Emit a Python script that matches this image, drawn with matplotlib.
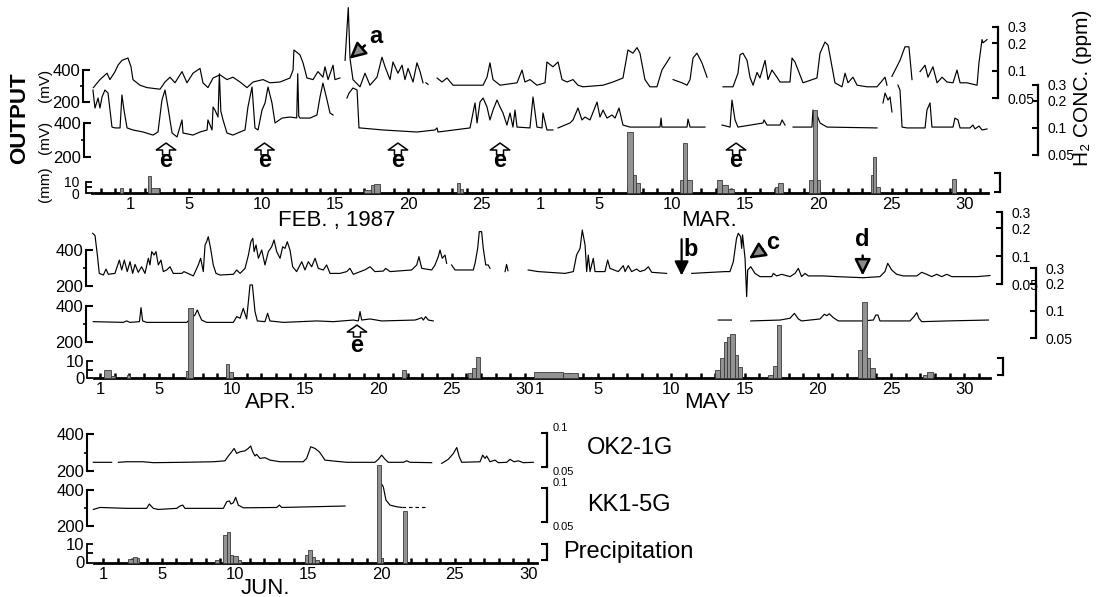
import numpy as np
import matplotlib
matplotlib.use('Agg')
import matplotlib.pyplot as plt
from matplotlib.ticker import NullLocator

plt.rcParams['font.family'] = ['Liberation Sans', 'DejaVu Sans']

nan = np.nan

# ---------------- Feb / Mar 1987 (day 1 = Feb 1, day 29 = Mar 1) ----------------
fm_ok_day = [-1.5, -1.05, -0.57, -0.37, -0.02, 0.18, 0.45, 0.86, 1.07, 1.2,
             1.68, 2.16, 3.05, 3.39, 3.73, 4.07, 4.55, 4.89, 5.3, 5.78,
             5.98, 6.32, 6.67, 7.14, 7.62, 8.03, 8.51, 8.99, 9.4, 10.08,
             10.56, 11.24, 11.92, 12.13, 12.19, 12.6, 12.81, 13.08, 13.49, 13.83,
             14.17, 14.31, 14.52, 14.86, 14.99, 15.33, nan,
             15.68, 15.9, 16.02, 16.22, 16.7, 17.04, 17.38, 17.86, 18.2, 18.41,
             18.75, 18.95, 19.29, 19.57, 19.77, 19.98, 20.32, 20.59, 20.8, 21.0, nan,
             21.2, 21.35, nan,
             21.96, 22.3, 22.64, 23.05, 25.1, 25.37, 25.57, 25.78, 26.26, 27.42,
             27.76, 27.96, 28.3, 28.78, 29.33, 29.46, 29.87, 30.22, 30.49, 30.83,
             31.24, 31.58, 31.92, 33.29, 33.97, 34.65, 34.99, 35.33, 35.61, 35.81,
             36.15, 36.49, 36.97, 37.31, 37.66, 37.86, nan,
             38.07, 38.68, 39.02, 39.23, 39.43, 39.7, 40.04, 40.39, nan,
             41.48, 42.16, 42.5, 42.64, 42.84, 43.12, 43.32, 43.53, 43.8, 44.0,
             44.35, 44.55, 44.82, 45.16, 45.37, 46.05, 46.19, 46.39, 46.6, 46.94,
             47.89, 48.1, 48.44, 48.65, 48.92, 49.12, 49.6, 49.81, 50.01, 50.35,
             50.63, 51.31, 51.99, 52.54, 52.67, nan,
             53.01, 53.56, 53.9, 54.17, 54.38, nan,
             54.93, 55.27, 55.47, 55.81, 56.09, 56.43, 56.77, 57.18, 57.45, 57.66,
             58.13, 58.82, 58.95, 59.16, 59.23, 59.5]
fm_ok_mv = [290, 340, 380, 340, 390, 430, 460, 475, 420, 340,
            305, 290, 280, 325, 355, 320, 390, 320, 380, 410,
            320, 290, 350, 370, 340, 355, 325, 290, 325, 340,
            320, 325, 350, 400, 525, 495, 445, 350, 340, 390,
            355, 420, 340, 430, 340, 350, nan,
            460, 790, 470, 340, 295, 380, 305, 355, 480, 420,
            340, 450, 380, 430, 340, 410, 325, 445, 390, 320, nan,
            320, 310, nan,
            350, 325, 350, 305, 305, 355, 445, 340, 305, 320,
            400, 325, 340, 305, 320, 450, 420, 450, 340, 325,
            340, 305, 295, 305, 325, 350, 525, 505, 540, 505,
            340, 295, 295, 400, 450, 480, nan,
            340, 320, 305, 340, 475, 505, 445, 355, nan,
            295, 295, 380, 495, 505, 460, 355, 305, 385, 350,
            460, 340, 400, 355, 325, 325, 475, 450, 400, 320,
            350, 505, 575, 555, 420, 320, 295, 380, 320, 355,
            305, 295, 295, 355, 305, nan,
            360, 460, 545, 545, 340, nan,
            390, 430, 355, 420, 320, 355, 325, 320, 400, 320,
            320, 305, 445, 590, 570, 590]

fm_kk_day = [-1.53, -1.39, -1.18, -1.05, -0.91, -0.71, -0.5, -0.23, -0.02, 0.32,
             0.45, 0.59, 0.8, 1.2, 1.89, 2.57, 2.91, 3.18, 3.39, 3.59,
             3.87, 4.21, 4.55, 4.62, 5.3, 5.78, 6.26, 6.32, 6.6, 6.67,
             6.8, 7.01, 7.1, 7.2, 7.35, 7.62, 8.03, 8.51, 8.85, 9.05, 9.33,
             9.53, 9.74, 10.01, 10.22, 10.42, 10.69, 10.9, 11.38, 11.92, 12.38,
             12.45, 12.52, 12.6, 13.29, 13.76, 13.97, 14.17, 14.45, 14.65, 14.86, nan,
             15.81, 15.95, 16.22, 16.5, 16.63, 16.7, 18.27, 20.59, 21.82, 21.96,
             22.02, 24.21, 24.55, 24.69, 24.89, 25.1, 25.37, 25.57, 25.78, 26.05,
             26.26, 26.46, 26.73, 26.94, 27.14, 27.28, 27.42, 28.3, 28.51, 28.78,
             29.12, 29.19, 29.46, 29.87, nan,
             30.22, 31.03, 31.24, 31.58, 31.85, 32.06, 32.4, 32.88, 33.08, 33.29,
             33.56, 33.9, 34.11, 34.38, 34.65, 35.13, 37.18, 37.25, 37.31, 39.02,
             39.09, 39.23, 40.25, nan,
             41.41, 41.96, 42.09, 42.3, 42.5, 44.21, 44.28, 44.48, 45.37, 45.51,
             45.71, nan,
             46.26, 47.55, 47.62, 47.76, 47.89, 48.1, 48.58, 51.99, nan,
             52.4, 52.54, 52.74, 52.88, 53.01, nan,
             53.42, 53.56, 53.7, 54.04, 55.27, 55.4, 55.61, 55.74, 57.18, 57.31,
             57.52, 57.66, 58.34, 58.54, 58.68, 58.95, 59.16, 59.5]
fm_kk_mv = [594, 488, 547, 488, 553, 594, 576, 376, 371, 371,
            565, 476, 371, 359, 347, 329, 347, 535, 594, 494,
            341, 318, 418, 341, 329, 347, 359, 418, 359, 494,
            476, 435, 690, 470, 418, 341, 329, 347, 359, 494, 612,
            371, 359, 476, 518, 612, 518, 400, 429, 435, 430,
            690, 440, 429, 429, 447, 553, 635, 535, 459, 447, nan,
            547, 576, 606, 594, 371, 371, 359, 347, 359, 371,
            347, 371, 518, 400, 523, 547, 494, 418, 476, 535,
            494, 459, 388, 459, 376, 476, 376, 371, 553, 376,
            371, 459, 359, 359, nan,
            371, 400, 418, 488, 418, 435, 418, 523, 435, 476,
            429, 447, 429, 488, 388, 376, 376, 429, 376, 376,
            423, 376, 376, nan,
            388, 376, 535, 418, 376, 400, 418, 388, 388, 418,
            388, nan,
            376, 376, 476, 347, 447, 400, 376, 371, nan,
            518, 576, 535, 553, 465, nan,
            623, 594, 376, 371, 371, 476, 518, 376, 376, 429,
            418, 371, 371, 388, 365, 382, 359, 365]

fm_rain_start = [0.3, 2.2, 2.45, 17.0, 17.45, 17.65, 23.3, 23.55,
                 34.95, 35.35, 35.55, 38.55, 38.75, 39.05, 41.05, 41.4, 41.8,
                 45.0, 45.25, 47.35, 47.6, 47.9, 51.55, 51.75, 51.95, 57.1]
fm_rain_end = [0.55, 2.45, 3.0, 17.45, 17.65, 18.05, 23.55, 23.75,
               35.35, 35.55, 35.8, 38.75, 39.05, 39.35, 41.4, 41.8, 42.2,
               45.25, 45.6, 47.6, 47.9, 48.1, 51.75, 51.95, 52.2, 57.35]
fm_rain_mm = [4.5, 15, 4.5, 2.5, 7, 8, 9, 4,
              55, 16, 9, 12, 45, 12, 12, 7, 4,
              5, 9, 12, 75, 12, 16, 33, 5, 13]

fm_tick_day = [1, 5, 10, 15, 20, 25, 29, 33, 38, 43, 48, 53, 58]
fm_tick_txt = ['1', '5', '10', '15', '20', '25', '1', '5', '10', '15', '20', '25', '30']
fm_e_day = [3.46, 10.18, 19.29, 26.26, 42.37]

# ---------------- Apr / May 1987 (day 1 = Apr 1, day 31 = May 1) ----------------
am_ok_day = [0.5, 0.66, 0.82, 0.95, 1.23, 1.41, 1.57, 2.02, 2.32, 2.48,
             2.66, 2.86, 3.05, 3.23, 3.39, 3.61, 3.84, 4.07, 4.3, 4.41,
             4.53, 4.69, 4.82, 4.98, 5.16, 5.32, 5.55, 5.78, 6.0, 6.58,
             6.73, 7.37, 7.71, 7.87, 8.05, 8.17, 8.28, 8.39, 8.55, 8.73,
             8.92, 9.19, 10.1, 10.33, 10.56, 10.9, 11.13, 11.3, 11.43, 11.52,
             11.65, 11.81, 12.04, 12.26, 12.49, 12.72, 12.88, 13.06, 13.29, 13.47,
             13.63, 13.78, 13.97, 14.15, 14.42, 14.77, 14.99, 15.22, 15.45, 15.68,
             15.9, 16.24, 16.47, 16.7, 17.38, 17.84, 18.06, 18.29, 19.09, 19.43,
             19.77, 20.34, 20.5, 20.8, 22.27, 22.62, 22.77, 22.96, 23.64, 23.87,
             24.09, 24.21, 24.36, 24.55, 24.66, nan,
             25.0, 25.23, 26.48, 26.6, 26.78, 26.89, 27.05, 27.16, 27.33, 27.5,
             27.62, nan,
             28.65, 28.75, 28.85, nan,
             30.23, 30.91, 32.74, 33.31, 33.53, 33.77, 33.92, 34.11, 34.22, 34.33,
             34.45, 34.67, 34.79, 35.47, 35.65, 35.81, 36.38, 36.72, 36.84, 37.06,
             37.29, 37.63, 37.86, 38.2, 38.43, 38.66, 39.68, nan,
             41.39, 43.66, 44.0, 44.23, 44.45, 44.57, 44.73, 44.8, 44.86, 45.03,
             45.14, 45.21, 45.42, 45.71, 46.05, 46.85, 46.96, 47.19, 47.53, 48.1,
             48.44, 48.67, 48.89, 49.12, 49.35, 50.37, 51.29, 53.1, 54.24, 54.58,
             54.77, 55.04, 55.38, 55.84, 56.75, 57.09, 57.43, 57.77, 58.11, 58.45,
             58.8, 59.14, 59.93, 60.84, 61.75]
am_ok_mv = [493, 480, 372, 270, 261, 294, 265, 270, 344, 289,
            344, 280, 335, 270, 320, 276, 307, 270, 354, 317,
            391, 372, 391, 317, 344, 280, 289, 307, 270, 270,
            280, 256, 317, 354, 280, 428, 446, 474, 409, 317,
            270, 261, 265, 289, 270, 298, 372, 446, 465, 391,
            428, 354, 400, 317, 391, 418, 456, 391, 354, 418,
            409, 446, 400, 307, 280, 335, 289, 335, 307, 354,
            298, 289, 317, 270, 270, 280, 298, 265, 290, 307,
            280, 283, 298, 280, 289, 317, 363, 298, 289, 317,
            363, 400, 354, 372, 326, nan,
            317, 289, 289, 326, 409, 502, 502, 409, 317, 317,
            298, nan,
            280, 320, 285, nan,
            289, 280, 270, 280, 372, 409, 511, 428, 280, 372,
            280, 354, 280, 280, 344, 298, 280, 313, 280, 313,
            280, 294, 280, 289, 307, 276, 270, nan,
            270, 280, 280, 335, 465, 493, 474, 409, 484, 354,
            141, 289, 307, 270, 252, 252, 270, 256, 265, 252,
            270, 298, 252, 270, 256, 256, 252, 246, 252, 280,
            326, 289, 265, 256, 256, 276, 265, 252, 265, 252,
            265, 252, 252, 252, 258]

am_kk_day = [0.54, 2.59, 2.82, 3.05, 3.69, 3.8, 3.91, 4.19, 6.92, 7.48,
             7.64, 7.78, 7.94, 8.28, 10.1, 10.33, 10.56, 10.78, 11.01, 11.24,
             11.4, 11.58, 11.74, 12.26, 12.44, 12.6, 13.51, 15.79, 16.93, 18.29,
             18.63, 18.75, 18.86, 19.43, 20.23, 22.5, 22.73, 22.96, 23.07, 23.23,
             23.41, 23.75, nan,
             43.2, 44.1, nan,
             45.42, 47.42, 48.1, 48.4, 48.67, 48.89, 50.15, 50.44, 50.61, 50.78,
             51.06, 51.4, 53.0, 53.79, 53.96, 54.1, 54.24, 56.29, 56.56, 56.75,
             56.9, 57.09, 58.8, 61.64]
am_kk_mv = [313, 309, 317, 309, 313, 391, 317, 309, 309, 350,
            378, 350, 322, 309, 309, 341, 332, 387, 328, 517,
            517, 369, 317, 313, 359, 317, 309, 317, 313, 322,
            317, 369, 322, 328, 317, 322, 328, 335, 322, 341,
            322, 317, nan,
            322, 322, nan,
            317, 322, 332, 359, 328, 317, 328, 354, 346, 357,
            335, 317, 317, 322, 350, 350, 317, 317, 341, 363,
            332, 313, 317, 322]

am_rain_start = [1.27, 1.73, 2.82, 6.85, 7.0, 9.6, 9.83, 21.59,
                 26.14, 26.37, 26.67, 30.65, 32.6,
                 43.0, 43.3, 43.56, 43.77, 44.02, 44.36, 44.52,
                 46.6, 46.95, 47.2, 52.76, 52.99, 53.33, 53.56, 57.2, 57.43]
am_rain_end = [1.73, 2.0, 3.05, 7.0, 7.33, 9.83, 10.1, 21.86,
               26.37, 26.67, 26.94, 32.6, 33.65,
               43.3, 43.56, 43.77, 44.02, 44.36, 44.52, 44.82,
               46.95, 47.2, 47.5, 52.99, 53.33, 53.56, 53.9, 57.43, 57.88]
am_rain_mm = [4.7, 1.2, 1.5, 4, 41, 8, 3.4, 4.7,
              2.7, 5.7, 12.5, 3.3, 2.8,
              5, 12, 21, 24, 26, 13.5, 6.7,
              2, 7, 31, 16.5, 45, 11.6, 5.7, 2, 3.7]

am_tick_day = [1, 5, 10, 15, 20, 25, 30, 31, 35, 40, 45, 50, 55, 60]
am_tick_txt = ['1', '5', '10', '15', '20', '25', '30', '1', '5', '10', '15', '20', '25', '30']

# ---------------- Jun 1987 ----------------
jn_ok_day = [0.34, 1.59, nan,
             2.05, 2.62, 3.75, 4.43, 6.48, 8.52, 9.32, 9.55, 9.78, 9.94,
             10.12, 10.35, 10.69, 10.91, 11.07, 11.21, 11.37, 11.48, 11.71, 12.05,
             12.39, 13.07, 14.66, 14.89, 15.17, 15.46, 15.75, 15.99, 16.14, 16.71,
             17.62, 19.55, 19.78, 20.01, 20.24, 20.46, 21.48, 21.72, 21.94, 23.42, nan,
             24.1, 24.55, 24.9, 25.13, 25.3, 25.47, 26.72, 26.9, 27.06, 27.17,
             27.4, 27.74, 27.96, 28.54, 28.76, 29.04, 29.33, 29.67, 30.35]
jn_ok_mv = [247, 247, nan,
            247, 250, 250, 245, 247, 250, 255, 281, 304, 322,
            295, 304, 309, 322, 335, 304, 281, 290, 268, 272,
            259, 250, 250, 268, 331, 322, 304, 277, 259, 254,
            247, 247, 263, 286, 263, 247, 247, 255, 247, 245, nan,
            241, 263, 295, 327, 277, 247, 250, 286, 268, 281,
            250, 259, 245, 247, 263, 250, 255, 245, 247]

jn_kk_day = [0.34, 0.8, 2.62, 3.98, 4.16, 4.43, 4.77, 6.03, 6.25, 6.44,
             6.59, 9.21, 9.44, 9.62, 9.73, 9.89, 10.05, 10.23, 10.57, 12.85,
             13.03, 13.19, 17.51, nan,
             19.78, 19.94, 20.12, 20.3, 20.58, 21.03, 21.38]
jn_kk_mv = [292, 303, 298, 298, 322, 298, 292, 298, 311, 316,
            298, 298, 335, 339, 322, 329, 359, 316, 301, 303,
            316, 303, 311, nan,
            437, 441, 418, 344, 316, 307, 303]
# broken (dashed) part of the KK1-5G record
jn_kk_dash_day = [21.38, 22.96]
jn_kk_dash_mv = [303, 303]

jn_rain_start = [2.73, 3.07, 3.3, 8.64, 9.17, 9.44, 9.66, 9.89, 10.23,
                 14.78, 15.0, 15.24, 15.46, 19.67, 19.94, 21.44]
jn_rain_end = [3.07, 3.3, 3.48, 8.93, 9.44, 9.66, 9.89, 10.23, 10.39,
               15.0, 15.24, 15.46, 15.75, 19.94, 20.12, 21.72]
jn_rain_mm = [1.7, 3.1, 2.3, 1.4, 14.9, 16.6, 4, 3.5, 1.4,
              4, 6.8, 3.1, 1.4, 52.7, 2.3, 28]

jn_tick_day = [1, 5, 10, 15, 20, 25, 30]
jn_tick_txt = ['1', '5', '10', '15', '20', '25', '30']

ppm_ticks = [0.05, 0.1, 0.2, 0.3]
ppm_txt = ['0.05', '0.1', '0.2', '0.3']

# ---------------- layout helpers (pixel boxes -> figure fractions) ----------------
W, H = 1100.0, 597.0
fig = plt.figure(figsize=(11, 5.97), dpi=100)


def box(x0, x1, y_top, y_bot):
    return [x0 / W, 1 - y_bot / H, (x1 - x0) / W, (y_bot - y_top) / H]


def ftext(x, y, s, **kw):
    fig.text(x / W, 1 - y / H, s, **kw)


def trace_axes(x0, x1, y_top, y_bot, xlim, out_pt):
    ax = fig.add_axes(box(x0, x1, y_top, y_bot))
    ax.patch.set_visible(False)
    ax.set_xlim(xlim)
    ax.set_ylim(200, 400)
    for s in ['top', 'right', 'bottom']:
        ax.spines[s].set_visible(False)
    ax.spines['left'].set_position(('outward', out_pt))
    ax.spines['left'].set_linewidth(1.5)
    ax.set_xticks([])
    ax.set_yticks([200, 400])
    ax.set_yticklabels(['200', '400'])
    ax.set_yticks([300], minor=True)
    ax.tick_params(axis='y', which='major', direction='in', length=5, width=1.5,
                   pad=2, labelsize=12)
    ax.tick_params(axis='y', which='minor', direction='out', length=2.5, width=1.2)
    return ax


def rain_axes(x0, x1, y_top, y_bot, xlim, out_pt, starts, ends, mm, tdays, ttxt,
              ylabels=('0', '', '10')):
    ax = fig.add_axes(box(x0, x1, y_top, y_bot))
    ax.patch.set_visible(False)
    ax.set_xlim(xlim)
    ax.set_ylim(0, 10)
    ax.spines['top'].set_visible(False)
    ax.spines['right'].set_visible(False)
    ax.spines['left'].set_position(('outward', out_pt))
    ax.spines['left'].set_linewidth(1.3)
    ax.spines['bottom'].set_linewidth(2.0)
    ax.bar(starts, mm, width=np.subtract(ends, starts), align='edge',
           color='#929292', edgecolor='#3a3a3a', linewidth=0.6, clip_on=False, zorder=3)
    ax.set_yticks([0, 5, 10])
    ax.set_yticklabels(list(ylabels))
    ax.tick_params(axis='y', direction='in', length=4, width=1.3, pad=2, labelsize=12)
    ax.set_xticks(tdays)
    ax.set_xticklabels(ttxt)
    ax.set_xticks(np.arange(np.ceil(xlim[0]), np.floor(xlim[1]) + 1), minor=True)
    ax.tick_params(axis='x', which='both', direction='in', length=3.5, width=1.8,
                   pad=3, labelsize=12)
    return ax


def right_bracket(x, y_top, y_bot, ticks=None, labels=None, log=True):
    ax = fig.add_axes(box(x, x + 1, y_top, y_bot))
    ax.patch.set_visible(False)
    for s in ['top', 'right', 'bottom']:
        ax.spines[s].set_visible(False)
    ax.spines['left'].set_linewidth(1.6)
    ax.set_xticks([])
    if log:
        ax.set_yscale('log')
        ax.set_ylim(ticks[0], ticks[-1])
    else:
        ax.set_ylim(0, 1)
        ticks = [0, 1]
    ax.set_yticks(ticks)
    ax.set_yticklabels(labels if labels else [''] * len(ticks))
    ax.yaxis.set_minor_locator(NullLocator())
    ax.tick_params(axis='y', left=True, right=False, labelleft=False, labelright=True,
                   direction='out', length=4, width=1.5, pad=2, labelsize=10)
    return ax


def line(ax, days, mv, **kw):
    ax.plot(days, mv, color='black', linewidth=0.85, clip_on=False, **kw)


hollow = dict(arrowstyle='simple,head_length=0.5,head_width=1.4,tail_width=0.5',
              fc='white', ec='black', lw=1.1, shrinkA=0, shrinkB=0, mutation_scale=10)
pointer = dict(arrowstyle='-|>,head_length=0.7,head_width=0.35', fc='#8a8a8a', ec='black',
               lw=1.8, shrinkA=1, shrinkB=0, mutation_scale=14)

# ---------------- row 1: February / March ----------------
xl1 = (-1.594, 59.567)
ok1 = trace_axes(92, 988, 70, 102, xl1, 6.5)
kk1 = trace_axes(92, 988, 123, 157, xl1, 6.0)
line(ok1, fm_ok_day, fm_ok_mv)
line(kk1, fm_kk_day, fm_kk_mv)
# the 0-10 mm scale here is too short for two stacked tick labels, so write them by hand
rain_axes(92, 988, 182, 193, xl1, 4.5, fm_rain_start, fm_rain_end, fm_rain_mm,
          fm_tick_day, fm_tick_txt, ylabels=('', '', ''))
ftext(79, 187, '10', fontsize=10, ha='right', va='baseline')
ftext(79, 199, '0', fontsize=10, ha='right', va='baseline')

ok1.annotate('a', xy=(15.98, 470), xytext=(17.75, 610), fontsize=17, fontweight='bold',
             ha='center', va='center', arrowprops=pointer, annotation_clip=False)
for d in fm_e_day:
    kk1.annotate('', xy=(d, 282), xytext=(d, 212), arrowprops=hollow, annotation_clip=False)
    kk1.text(d, 141, 'e', fontsize=17, fontweight='bold', ha='center', va='baseline',
             clip_on=False)

right_bracket(998, 27, 98, ppm_ticks, ppm_txt)
right_bracket(1038, 85, 155, ppm_ticks, ppm_txt)
right_bracket(1000, 173, 192, log=False)

ftext(20, 118, 'OUTPUT', fontsize=16, fontweight='bold', rotation=90, ha='center', va='center')
ftext(45, 85, '(mV)', fontsize=11, rotation=90, ha='center', va='center')
ftext(45, 137, '(mV)', fontsize=11, rotation=90, ha='center', va='center')
ftext(45, 184, '(mm)', fontsize=11, rotation=90, ha='center', va='center')
ftext(1082, 88, 'H₂ CONC. (ppm)', fontsize=15, rotation=90, ha='center', va='center')
ftext(337, 226, 'FEB. , 1987', fontsize=16, ha='center', va='baseline')
ftext(709, 226, 'MAR.', fontsize=16, ha='center', va='baseline')

# ---------------- row 2: April / May ----------------
xl2 = (0.590, 61.751)
ok2 = trace_axes(94, 990, 250, 286, xl2, 6.0)
kk2 = trace_axes(94, 990, 306, 342, xl2, 6.0)
line(ok2, am_ok_day, am_ok_mv)
line(kk2, am_kk_day, am_kk_mv)
rain_axes(94, 990, 361, 378, xl2, 5.0, am_rain_start, am_rain_end, am_rain_mm,
          am_tick_day, am_tick_txt)

ok2.annotate('', xy=(40.7, 258), xytext=(40.7, 460), annotation_clip=False,
             arrowprops=dict(arrowstyle='-|>,head_length=0.6,head_width=0.3',
                             color='black', lw=1.6, mutation_scale=14, shrinkA=0, shrinkB=0))
ok2.text(41.3, 400, 'b', fontsize=17, fontweight='bold', ha='center', va='center',
         clip_on=False)
ok2.annotate('c', xy=(45.3, 352), xytext=(46.95, 444), fontsize=17, fontweight='bold',
             ha='center', va='center', arrowprops=pointer, annotation_clip=False)
ok2.annotate('d', xy=(53.06, 258), xytext=(53.06, 456), fontsize=17, fontweight='bold',
             ha='center', va='center', arrowprops=pointer, annotation_clip=False)
kk2.annotate('', xy=(18.54, 294), xytext=(18.54, 228), arrowprops=hollow,
             annotation_clip=False)
kk2.text(18.54, 144, 'e', fontsize=17, fontweight='bold', ha='center', va='baseline',
         clip_on=False)

right_bracket(1002, 212, 284, ppm_ticks, ppm_txt)
right_bracket(1036, 268, 338, ppm_ticks, ppm_txt)
right_bracket(1003, 358, 375, log=False)

ftext(271, 408, 'APR.', fontsize=16, ha='center', va='baseline')
ftext(707, 408, 'MAY', fontsize=16, ha='center', va='baseline')

# ---------------- row 3: June ----------------
xl3 = (0.386, 30.604)
ok3 = trace_axes(94, 537, 434, 471, xl3, 5.0)
kk3 = trace_axes(94, 537, 490, 526, xl3, 5.0)
line(ok3, jn_ok_day, jn_ok_mv)
line(kk3, jn_kk_day, jn_kk_mv)
line(kk3, jn_kk_dash_day, jn_kk_dash_mv, linestyle=(0, (3, 2.5)))
rain_axes(94, 537, 544, 562.5, xl3, 5.0, jn_rain_start, jn_rain_end, jn_rain_mm,
          jn_tick_day, jn_tick_txt)

for y_top, y_bot in [(433, 467), (488, 522)]:
    b = right_bracket(547, y_top, y_bot, [0.05, 0.1], ['', ''])
    b.text(6, 1.0, '0.1', transform=b.transAxes, fontsize=8, ha='left', va='bottom')
    b.text(6, 0.0, '0.05', transform=b.transAxes, fontsize=8, ha='left', va='top')
right_bracket(547, 544, 560, log=False)

ftext(587, 448, 'OK2-1G', fontsize=17, ha='left', va='center')
ftext(587, 505, 'KK1-5G', fontsize=17, ha='left', va='center')
ftext(563, 552, 'Precipitation', fontsize=17, ha='left', va='center')
ftext(265, 594, 'JUN.', fontsize=16, ha='center', va='baseline')

fig.savefig('out.png', dpi=100)
